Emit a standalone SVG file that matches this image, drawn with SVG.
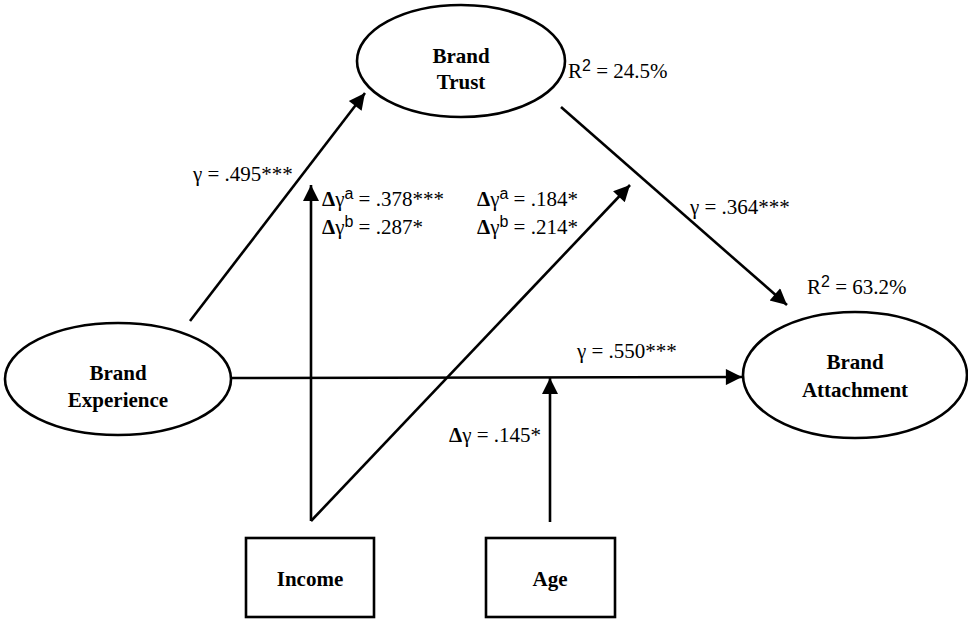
<svg xmlns="http://www.w3.org/2000/svg" width="968" height="619" viewBox="0 0 968 619">
<style>
.node{fill:#fff;stroke:#000;stroke-width:2.6}
.lbl{font-family:"Liberation Serif","Times New Roman",serif;font-size:21px;font-weight:bold;text-anchor:middle;fill:#000}
.t{font-family:"Liberation Serif","Times New Roman",serif;font-size:21px;fill:#000}
.b{font-weight:bold}
.sup{font-family:"Liberation Sans",Arial,sans-serif;font-size:16px}
.conn{stroke:#000;stroke-width:2.6;fill:none}
</style>
<defs>
<marker id="ah" viewBox="0 0 10 10" refX="10" refY="5" markerWidth="7" markerHeight="6.2" markerUnits="strokeWidth" orient="auto">
<path d="M0,0 L10,5 L0,10 z" fill="#000"/>
</marker>
</defs>
<rect width="968" height="619" fill="#fff"/>
<g id="connectors">
<line class="conn" x1="190" y1="321" x2="365" y2="93" marker-end="url(#ah)"/>
<line class="conn" x1="561" y1="107" x2="787" y2="305" marker-end="url(#ah)"/>
<line class="conn" x1="230" y1="378" x2="742" y2="377" marker-end="url(#ah)"/>
<line class="conn" x1="311" y1="521" x2="311" y2="185" marker-end="url(#ah)"/>
<line class="conn" x1="311" y1="521" x2="630" y2="185" marker-end="url(#ah)"/>
<line class="conn" x1="550" y1="522" x2="550" y2="378" marker-end="url(#ah)"/>
</g>
<g id="brand-trust">
<ellipse class="node" cx="461" cy="61" rx="104" ry="56"/>
<text class="lbl" x="461" y="63">Brand</text>
<text class="lbl" x="461" y="89">Trust</text>
</g>
<g id="brand-experience">
<ellipse class="node" cx="118" cy="379" rx="113" ry="56"/>
<text class="lbl" x="118" y="380">Brand</text>
<text class="lbl" x="118" y="407">Experience</text>
</g>
<g id="brand-attachment">
<ellipse class="node" cx="855" cy="375" rx="112" ry="63"/>
<text class="lbl" x="855" y="369">Brand</text>
<text class="lbl" x="855" y="397">Attachment</text>
</g>
<g id="income">
<rect class="node" x="246" y="538" width="128" height="79"/>
<text class="lbl" x="310" y="586">Income</text>
</g>
<g id="age">
<rect class="node" x="486" y="538" width="129" height="79"/>
<text class="lbl" x="550" y="586">Age</text>
</g>
<g id="labels">
<text class="t" x="568" y="78">R<tspan class="sup" dy="-7">2</tspan><tspan dy="7"> = 24.5%</tspan></text>
<text class="t" x="807" y="294">R<tspan class="sup" dy="-7">2</tspan><tspan dy="7"> = 63.2%</tspan></text>
<text class="t" x="193" y="181">γ = .495***</text>
<text class="t" x="322" y="206"><tspan class="b">Δ</tspan>γ<tspan class="sup" dy="-7">a</tspan><tspan dy="7"> = .378***</tspan></text>
<text class="t" x="322" y="234"><tspan class="b">Δ</tspan>γ<tspan class="sup" dy="-7">b</tspan><tspan dy="7"> = .287*</tspan></text>
<text class="t" x="477" y="206"><tspan class="b">Δ</tspan>γ<tspan class="sup" dy="-7">a</tspan><tspan dy="7"> = .184*</tspan></text>
<text class="t" x="477" y="234"><tspan class="b">Δ</tspan>γ<tspan class="sup" dy="-7">b</tspan><tspan dy="7"> = .214*</tspan></text>
<text class="t" x="690" y="214">γ = .364***</text>
<text class="t" x="577" y="358">γ = .550***</text>
<text class="t" x="449" y="442"><tspan class="b">Δ</tspan>γ = .145*</text>
</g>
</svg>
